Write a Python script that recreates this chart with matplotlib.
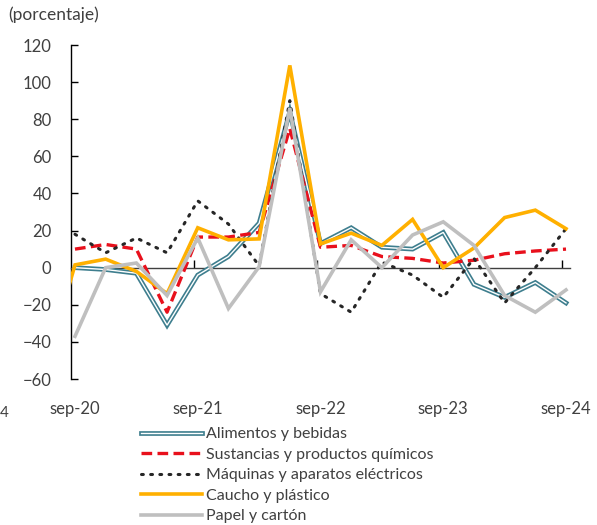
import matplotlib
matplotlib.use("Agg")
import matplotlib.pyplot as plt
from matplotlib.legend_handler import HandlerTuple
import numpy as np

plt.rcParams['font.family'] = ['Lato', 'DejaVu Sans']

quarters = ["jun-20", "sep-20", "dic-20", "mar-21", "jun-21", "sep-21", "dic-21", "mar-22", "jun-22",
            "sep-22", "dic-22", "mar-23", "jun-23", "sep-23", "dic-23", "mar-24", "jun-24", "sep-24"]
tick_labels = ["sep-20", "sep-21", "sep-22", "sep-23", "sep-24"]

alimentos = [np.nan, 0, -1, -3, -31, -4, 6, 24, 84, 13, 21.5, 11, 10, 19, -9, -16, -8, -19]
sustancias = [np.nan, 10, 12.5, 10, -24, 16.5, 16.5, 19, 75, 11, 12, 6, 5, 2.5, 4, 7.5, 9, 10]
maquinas = [np.nan, 18, 8, 16, 8, 36, 23.5, 1, 90, -14, -24, 3, -4, -16, 5, -19, 0, 21]
caucho = [-56, 1.5, 4.6, -2, -14, 21.5, 15, 15.5, 109, 12.8, 18.6, 12, 26, 0, 10.6, 27, 31, 21]
papel = [np.nan, -37, 0, 2.5, -15, 16, -22, 0.5, 86, -13, 15, 0, 17.6, 24.7, 12, -15, -24, -12]

names = ["Alimentos y bebidas", "Sustancias y productos químicos",
         "Máquinas y aparatos eléctricos", "Caucho y plástico", "Papel y cartón"]

x = np.arange(len(quarters)) - 1  # sep-20 at 0
txt = '#404040'

fig = plt.figure(figsize=(5.97, 5.25), dpi=100)
ax = fig.add_axes([71/597, 1-379/525, 499/597, 334/525])

teal = '#3E7E8E'
l1a, = ax.plot(x, alimentos, color=teal, lw=3.4, solid_joinstyle='miter', zorder=3)
l1b, = ax.plot(x, alimentos, color='white', lw=1.0, solid_joinstyle='miter', zorder=3.1)
l2, = ax.plot(x, sustancias, color='#E8101C', lw=2.4, linestyle=(0, (3.2, 1.6)), zorder=4)
l3, = ax.plot(x, maquinas, color='#262626', lw=2.2, linestyle=(0, (0.6, 2.4)),
              dash_capstyle='round', zorder=5)
l4, = ax.plot(x, caucho, color='#FFB000', lw=2.6, solid_joinstyle='miter', zorder=6)
l5, = ax.plot(x, papel, color='#BFBFBF', lw=2.6, solid_joinstyle='miter', zorder=7)

x0 = -0.13
ax.set_xlim(x0, 16.13)
ax.set_ylim(-60, 120)
ax.set_yticks(np.arange(-60, 121, 20))
ax.tick_params(axis='y', direction='in', length=5, width=1, colors='black',
               labelcolor=txt, labelsize=12, pad=14)

for s in ['top', 'right']:
    ax.spines[s].set_visible(False)
ax.spines['left'].set_color('black')
ax.spines['left'].set_linewidth(1)
ax.spines['bottom'].set_position(('data', 0))
ax.spines['bottom'].set_color('#404040')
ax.spines['bottom'].set_linewidth(1)
ax.set_xticks([x0 + 4*k for k in range(1, 5)])
ax.tick_params(axis='x', direction='in', length=6, width=1, colors='black', labelbottom=False)

sec = ax.secondary_xaxis(0)
sec.set_xticks([0, 4, 8, 12, 16])
sec.set_xticklabels(tick_labels)
sec.tick_params(length=0, pad=16, labelsize=12, labelcolor=txt)
sec.spines['bottom'].set_visible(False)

fig.text(8/597, 1-15/525, "(porcentaje)", fontsize=12.5, color=txt, va='center', ha='left')
fig.text(0/597, 1-413/525, "4", fontsize=11, color=txt, va='center', ha='left')

handles = [(l1a, l1b), l2, l3, l4, l5]
leg = fig.legend(handles, names, loc='upper left', bbox_to_anchor=(133/597, 1-419/525),
                 frameon=False, fontsize=11.5, handlelength=3.8, handletextpad=0.3,
                 labelspacing=0.4, borderpad=0, labelcolor=txt,
                 handler_map={tuple: HandlerTuple(ndivide=1)})

fig.savefig("out.png", dpi=100)
